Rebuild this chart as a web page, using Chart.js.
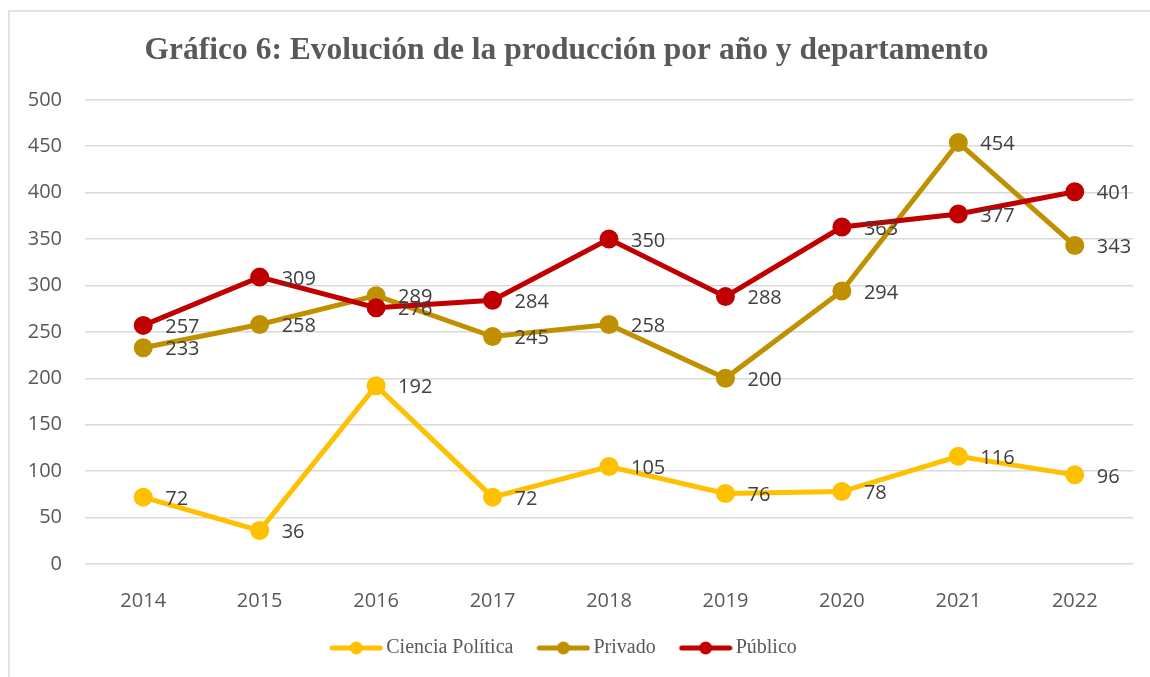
<!DOCTYPE html>
<html>
<head>
<meta charset="utf-8">
<script src="https://cdn.jsdelivr.net/npm/chart.js@4"></script>
<style>
  html, body { margin: 0; padding: 0; background: #fff; }
  #wrap { width: 1150px; height: 677px; }
</style>
</head>
<body>
<div id="wrap"><canvas id="grafico" width="1150" height="677"></canvas></div>
<script>
const anos = ['2014', '2015', '2016', '2017', '2018', '2019', '2020', '2021', '2022'];
const cienciaPolitica = [72, 36, 192, 72, 105, 76, 78, 116, 96];
const privado = [233, 258, 289, 245, 258, 200, 294, 454, 343];
const publico = [257, 309, 276, 284, 350, 288, 363, 377, 401];

const fonteSans = "'Open Sans', 'Liberation Sans', sans-serif";
const fonteSerif = "'Liberation Serif', 'DejaVu Serif', serif";

// amostra da legenda: linha com ponto no meio
function amostra(cor) {
  const c = document.createElement('canvas');
  c.width = 54;
  c.height = 16;
  const g = c.getContext('2d');
  g.strokeStyle = cor;
  g.lineWidth = 5;
  g.lineCap = 'round';
  g.beginPath();
  g.moveTo(3, 8);
  g.lineTo(51, 8);
  g.stroke();
  g.fillStyle = cor;
  g.beginPath();
  g.arc(27, 8, 6.5, 0, Math.PI * 2);
  g.fill();
  return c;
}

const moldura = {
  id: 'moldura',
  beforeDraw(chart) {
    const ctx = chart.ctx;
    ctx.save();
    ctx.strokeStyle = '#d9d9d9';
    ctx.lineWidth = 1.5;
    ctx.strokeRect(9, 11, 1200, 720);
    ctx.restore();
  }
};

const rotulos = {
  id: 'rotulos',
  afterDatasetsDraw(chart) {
    const ctx = chart.ctx;
    ctx.save();
    ctx.font = '20px ' + fonteSans;
    ctx.fillStyle = '#404040';
    ctx.textAlign = 'left';
    ctx.textBaseline = 'middle';
    chart.data.datasets.forEach((ds, i) => {
      const meta = chart.getDatasetMeta(i);
      meta.data.forEach((pt, j) => {
        ctx.fillText(ds.data[j], pt.x + 22, pt.y + 2);
      });
    });
    ctx.restore();
  }
};

function serie(label, data, cor, ordem) {
  return {
    label: label,
    data: data,
    borderColor: cor,
    backgroundColor: cor,
    pointBackgroundColor: cor,
    pointBorderColor: cor,
    borderWidth: 5,
    pointRadius: 7,
    pointHoverRadius: 7,
    tension: 0,
    order: ordem,
    legendImg: amostra(cor)
  };
}

new Chart(document.getElementById('grafico'), {
  type: 'line',
  data: {
    labels: anos,
    datasets: [
      serie('Ciencia Política', cienciaPolitica, '#ffc000', 2),
      serie('Privado', privado, '#bf9000', 1),
      serie('Público', publico, '#c00000', 0)
    ]
  },
  options: {
    responsive: false,
    animation: false,
    layout: { padding: { left: 0, right: 17, top: 0, bottom: 9 } },
    plugins: {
      title: {
        display: true,
        text: 'Gráfico 6: Evolución de la producción por año y departamento',
        color: '#595959',
        font: { family: fonteSerif, size: 31.5, weight: 'bold', lineHeight: 1.2 },
        padding: { top: 32, bottom: 30 }
      },
      legend: {
        position: 'bottom',
        labels: {
          usePointStyle: true,
          pointStyleWidth: 40,
          padding: 30,
          color: '#595959',
          font: { family: fonteSerif, size: 20 },
          generateLabels(chart) {
            return chart.data.datasets.map((ds, i) => ({
              text: ds.label,
              pointStyle: ds.legendImg,
              fillStyle: ds.borderColor,
              strokeStyle: ds.borderColor,
              lineWidth: 0,
              fontColor: '#595959',
              hidden: false,
              datasetIndex: i
            }));
          }
        }
      },
      tooltip: { enabled: false }
    },
    scales: {
      x: {
        offset: true,
        grid: { display: false },
        border: { display: false },
        ticks: {
          color: '#595959',
          font: { family: fonteSans, size: 20 },
          padding: 17
        },
        afterFit(scale) { scale.height = 44; }
      },
      y: {
        min: 0,
        max: 500,
        grid: { color: '#d9d9d9', lineWidth: 1.5, drawTicks: false },
        border: { display: false },
        ticks: {
          stepSize: 50,
          color: '#595959',
          font: { family: fonteSans, size: 20 },
          padding: 23
        },
        afterFit(scale) { scale.width = 85; }
      }
    }
  },
  plugins: [moldura, rotulos]
});
</script>
</body>
</html>
